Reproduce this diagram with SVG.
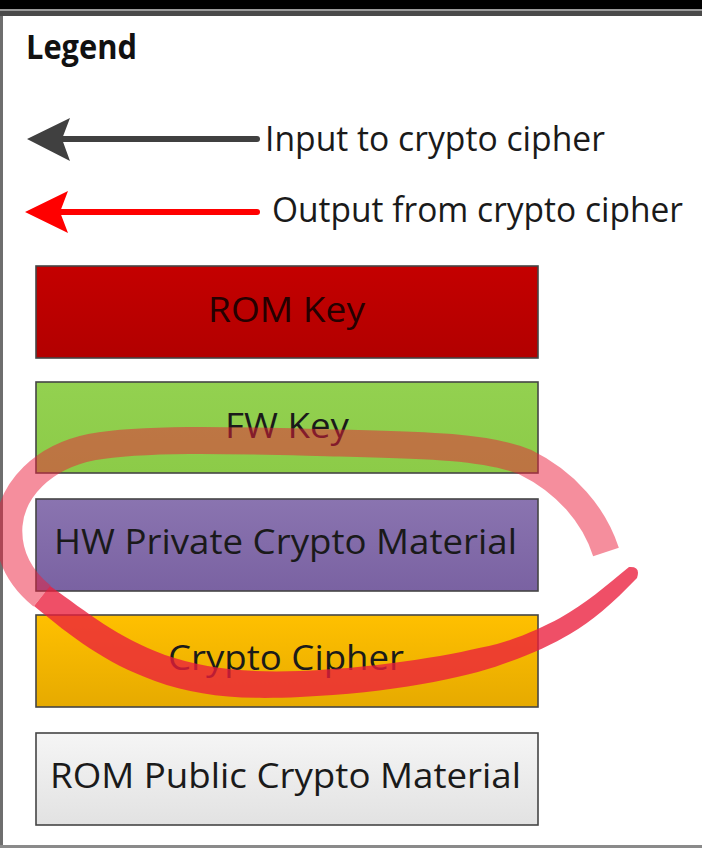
<svg xmlns="http://www.w3.org/2000/svg" width="702" height="849" viewBox="0 0 702 849">
  <defs>
    <style>
      .lbl { font-family: "Open Sans", "Noto Sans", "Liberation Sans", sans-serif; font-size: 35px; fill: #1a1a1a; }
      .cap { font-family: "Open Sans", "Noto Sans", "Liberation Sans", sans-serif; font-size: 34px; fill: #1a1a1a; }
      .ttl { font-family: "Open Sans", "Noto Sans", "Liberation Sans", sans-serif; font-size: 34px; font-weight: bold; fill: #111; }
      .box { stroke: #454545; stroke-width: 1.6; }
      .mark { fill: none; stroke: #eb1e3c; stroke-linejoin: round; }
    </style>
    <linearGradient id="gRom" x1="0" y1="0" x2="0" y2="1">
      <stop offset="0" stop-color="#c40000"/><stop offset="1" stop-color="#b20000"/>
    </linearGradient>
    <linearGradient id="gFw" x1="0" y1="0" x2="0" y2="1">
      <stop offset="0" stop-color="#93d150"/><stop offset="1" stop-color="#8ccb48"/>
    </linearGradient>
    <linearGradient id="gHw" x1="0" y1="0" x2="0" y2="1">
      <stop offset="0" stop-color="#8a74b0"/><stop offset="1" stop-color="#7a62a2"/>
    </linearGradient>
    <linearGradient id="gCc" x1="0" y1="0" x2="0" y2="1">
      <stop offset="0" stop-color="#ffc000"/><stop offset="1" stop-color="#e6aa00"/>
    </linearGradient>
    <linearGradient id="gPub" x1="0" y1="0" x2="0" y2="1">
      <stop offset="0" stop-color="#f5f5f5"/><stop offset="1" stop-color="#e2e2e2"/>
    </linearGradient>
  </defs>

  <rect x="0" y="0" width="702" height="849" fill="#ffffff"/>

  <g id="frame">
    <rect x="0" y="0" width="702" height="9" fill="#000"/>
    <rect x="0" y="9" width="702" height="2" fill="#9a9a9a"/>
    <rect x="0" y="11" width="702" height="5" fill="#4a4a4a"/>
    <rect x="0" y="16" width="3" height="831" fill="#6e6e6e"/>
    <rect x="0" y="845" width="702" height="3" fill="#8a8a8a"/>
  </g>

  <g id="title">
    <text class="ttl" x="26" y="59" textLength="111" lengthAdjust="spacingAndGlyphs">Legend</text>
  </g>

  <g id="connectors">
    <g id="arrow-input">
      <line x1="60" y1="139" x2="257" y2="139" stroke="#404040" stroke-width="6" stroke-linecap="round"/>
      <polygon points="27,139 70,118 62,139 70,161" fill="#404040"/>
      <text class="cap" x="265" y="151" textLength="340" lengthAdjust="spacingAndGlyphs">Input to crypto cipher</text>
    </g>
    <g id="arrow-output">
      <line x1="58" y1="212" x2="257" y2="212" stroke="#ff0000" stroke-width="6" stroke-linecap="round"/>
      <polygon points="25,212 68,191 60,212 68,233" fill="#ff0000"/>
      <text class="cap" x="272" y="222" textLength="411" lengthAdjust="spacingAndGlyphs">Output from crypto cipher</text>
    </g>
  </g>

  <g id="rom-key">
    <rect class="box" x="36" y="266" width="502" height="92" fill="url(#gRom)"/>
    <text class="lbl" x="208" y="322" textLength="157" lengthAdjust="spacingAndGlyphs" style="fill:#250000">ROM Key</text>
  </g>
  <g id="fw-key">
    <rect class="box" x="36" y="382" width="502" height="91" fill="url(#gFw)"/>
    <text class="lbl" x="225" y="438" textLength="124" lengthAdjust="spacingAndGlyphs">FW Key</text>
  </g>
  <g id="hw-private">
    <rect class="box" x="36" y="499" width="502" height="92" fill="url(#gHw)"/>
    <text class="lbl" x="54" y="554" textLength="463" lengthAdjust="spacingAndGlyphs">HW Private Crypto Material</text>
  </g>
  <g id="crypto-cipher">
    <rect class="box" x="36" y="615" width="502" height="92" fill="url(#gCc)"/>
    <text class="lbl" x="168" y="670" textLength="236" lengthAdjust="spacingAndGlyphs">Crypto Cipher</text>
  </g>
  <g id="rom-public">
    <rect class="box" x="36" y="733" width="502" height="92" fill="url(#gPub)"/>
    <text class="lbl" x="50" y="788" textLength="471" lengthAdjust="spacingAndGlyphs">ROM Public Crypto Material</text>
  </g>

  <g id="highlight">
    <path class="mark" opacity="0.5" stroke-width="27" stroke-linecap="butt" d="M 606,552 C 594,515 566,482 525,462 C 485,446 420,445 340,443 C 250,441 150,437 92,447 C 42,457 12,490 9,525 C 7,555 20,578 42,596"/>
    <path opacity="0.78" fill="#eb1e3c" d="M 50,586 C 88,613 117,637 165,655 C 203,668 242,673 300,671 C 390,667 455,654 497,644 C 522,637 543,627 560,618 C 585,604 606,586 629,567 Q 641,566 637,578 C 612,604 592,621 570,634 C 553,644 530,655 503,664 C 465,678 390,693 300,697 C 238,700 197,696 155,681 C 103,662 72,637 34,606 Z"/>
  </g>
</svg>
